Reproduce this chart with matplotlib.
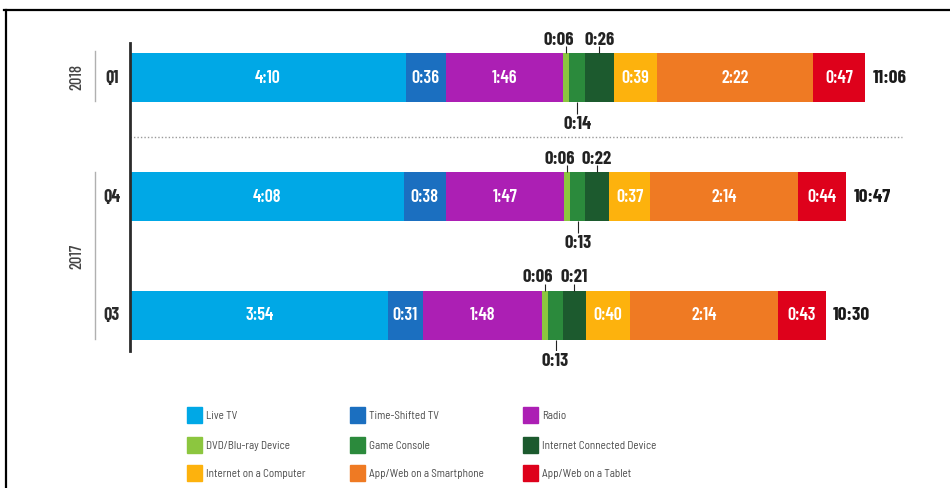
import matplotlib
matplotlib.use('Agg')
import matplotlib.pyplot as plt
from matplotlib.lines import Line2D
from matplotlib.patches import Rectangle

# minutes per day spent on each medium, adults 18+
media = ['Live TV', 'Time-Shifted TV', 'Radio',
         'DVD/Blu-ray Device', 'Game Console', 'Internet Connected Device',
         'Internet on a Computer', 'App/Web on a Smartphone', 'App/Web on a Tablet']
colors = ['#00a8e6', '#1b6fc0', '#ac1fb4',
          '#8cc63f', '#2b8a3c', '#1c5a2e',
          '#fdb20d', '#ef7a23', '#de011b']

quarters = ['Q3', 'Q4', 'Q1']
q3_2017 = [234, 31, 108, 6, 13, 21, 40, 134, 43]
q4_2017 = [248, 38, 107, 6, 13, 22, 37, 134, 44]
q1_2018 = [250, 36, 106, 6, 14, 26, 39, 142, 47]
totals = [630, 647, 666]

rows = [q3_2017, q4_2017, q1_2018]

W, H = 950, 489
COND = ['Barlow Condensed', 'Roboto Condensed', 'DejaVu Sans']
SEMI = ['Barlow Semi Condensed', 'Open Sans', 'DejaVu Sans']


def hmm(minutes):
    return f'{minutes // 60}:{minutes % 60:02d}'


def fx(px):
    return px / W


def fy(py):
    return 1 - py / H


fig = plt.figure(figsize=(W / 100, H / 100), dpi=100)
fig.patch.set_facecolor('white')

# outer frame (top and left edges)
fig.add_artist(Line2D([fx(4), fx(950)], [fy(11), fy(11)], color='black', lw=1.6,
                      transform=fig.transFigure))
fig.add_artist(Line2D([fx(6), fx(6)], [fy(11), fy(489)], color='black', lw=1.6,
                      transform=fig.transFigure))

# plot area: 1 minute = 1.104 px, rows 119 px apart
px_per_min = 1.104
row_px = 119
ax_left, ax_right, ax_top, ax_bottom = 130, 910, 44, 352
ax = fig.add_axes([fx(ax_left), fy(ax_bottom), (ax_right - ax_left) / W, (ax_bottom - ax_top) / H])
ax.set_xlim(0, (ax_right - ax_left) / px_per_min)
ax.set_ylim(-(ax_bottom - 316) / row_px, 2 + (78 - ax_top) / row_px)
ax.set_facecolor('none')
for side in ['top', 'right', 'bottom']:
    ax.spines[side].set_visible(False)
ax.spines['left'].set_color('#2b2b2b')
ax.spines['left'].set_linewidth(2.0)
ax.set_xticks([])
ax.set_yticks([])

bar_h = 49 / row_px
pt = 0.72  # points per pixel

for yi, vals in enumerate(rows):
    left = 0
    for i, v in enumerate(vals):
        ax.barh(yi, v, left=left, height=bar_h, color=colors[i], edgecolor='none')
        cx = left + v / 2
        if i in (0, 1, 2, 6, 7, 8):
            ax.text(cx, yi, hmm(v), ha='center', va='center', color='white',
                    fontsize=13, fontweight='semibold', family=COND)
        elif i in (3, 5):
            # small segments labelled above the bar
            top = yi + bar_h / 2
            ax.plot([cx, cx], [top, top + 7 / row_px], color='#222222', lw=0.8,
                    solid_capstyle='butt')
            dx = -7 if i == 3 else 0
            ax.annotate(hmm(v), (cx, top), xytext=(dx * pt, 5 * pt),
                        textcoords='offset points', ha='center', va='bottom',
                        fontsize=13.5, fontweight='bold', family=COND, color='#222222')
        else:
            # game console labelled below the bar
            bot = yi - bar_h / 2
            ax.plot([cx, cx], [bot, bot - 12 / row_px], color='#222222', lw=0.8,
                    solid_capstyle='butt')
            ax.annotate(hmm(v), (cx, bot), xytext=(0, -13 * pt),
                        textcoords='offset points', ha='center', va='top',
                        fontsize=13.5, fontweight='bold', family=COND, color='#222222')
        left += v
    ax.annotate(hmm(totals[yi]), (left, yi), xytext=(7 * pt, 0),
                textcoords='offset points', ha='left', va='center',
                fontsize=14, fontweight='bold', family=COND, color='#1a1a1a')
    # quarter label
    ax.text(-18 / px_per_min, yi, quarters[yi], ha='center', va='center',
            fontsize=13, fontweight='bold', family=COND, color='#2b2b2b', clip_on=False)

# dotted divider between years
ax.plot([0, (902 - ax_left) / px_per_min], [2 - 60 / row_px] * 2, ls=(0, (1, 1.5)),
        color='#9a9a9a', lw=1.0, clip_on=False)

# year labels with bracket lines
for label, y0, y1 in [('2018', 52, 102), ('2017', 173, 340)]:
    fig.add_artist(Line2D([fx(95), fx(95)], [fy(y0), fy(y1)], color='#b0b0b0', lw=1.0,
                          transform=fig.transFigure))
    fig.text(fx(77), fy((y0 + y1) / 2), label, rotation=90, ha='center', va='center',
             fontsize=12, fontweight='medium', family=COND, color='#444444')

# legend, three columns
col_x = [187, 350, 523]
row_y = [416, 446, 474]
for i, name in enumerate(media):
    x = col_x[i % 3]
    y = row_y[i // 3]
    fig.add_artist(Rectangle((fx(x), fy(y + 8)), 15 / W, 16 / H, color=colors[i],
                             transform=fig.transFigure))
    fig.text(fx(x + 19), fy(y), name, ha='left', va='center', fontsize=8,
             family=SEMI, color='#4a4a4a')

fig.savefig('out.png', dpi=100)
